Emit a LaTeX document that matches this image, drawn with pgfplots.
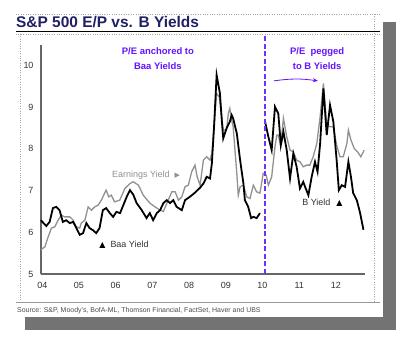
\documentclass[border=0pt]{standalone}
\usepackage{fontspec}
\setmainfont{Liberation Sans}
\newfontfamily\symfont{DejaVu Sans}
\usepackage{pgfplots}
\pgfplotsset{compat=1.18}
\usetikzlibrary{arrows.meta}
\definecolor{titleblue}{RGB}{32,32,100}
\definecolor{annot}{RGB}{100,20,255}
\definecolor{divline}{RGB}{110,50,255}
\definecolor{eygray}{RGB}{145,145,145}
\begin{document}
\begin{tikzpicture}[x=1bp,y=1bp]
\useasboundingbox (0,0) rectangle (417,351);
% shadow
\fill[black!55] (383,22) rectangle (396,329);
\fill[black!55] (25,21) rectangle (396,34);
% card
\fill[white] (8,34) rectangle (383,345);
% dotted frame
\draw[black!35, dotted] (16,337) -- (380,337);
\draw[black!35, dotted] (16,317) -- (380,317);
\draw[black!35, dotted] (20,317) -- (20,48);
\draw[black!35, dotted] (374,337) -- (374,48);
% title
\node[anchor=west, inner sep=0, text=titleblue, font=\bfseries\fontsize{15.5}{16}\selectfont] at (16,329) {S\&P 500 E/P vs. B Yields};
\draw[black, line width=1.5bp] (16,319.5) -- (380,319.5);
% bottom rule and source
\draw[black!40, line width=0.8bp] (16,48.3) -- (380,48.3);
\node[anchor=west, inner sep=0, text=black!70, font=\fontsize{7}{7}\selectfont] at (17,40) {Source: S\&P, Moody's, BofA-ML, Thomson Financial, FactSet, Haver and UBS};
\begin{axis}[at={(41bp,77bp)}, anchor=south west, scale only axis,
  width=324bp, height=229bp,
  xmin=2003.965, xmax=2012.793, ymin=5, ymax=10.49,
  axis lines*=left,
  axis line style={black!60, line width=1.5bp},
  xtick={2004,...,2012}, xticklabels={04,05,06,07,08,09,10,11,12},
  ytick={5,...,10},
  major tick length=0,
  tick label style={font=\fontsize{9}{10}\selectfont, text=black!80},
  xticklabel style={yshift=-5bp},
  yticklabel style={xshift=-4bp},
  /pgf/number format/assume math mode=true,
  clip=false]
% Earnings yield (gray)
\addplot[eygray, line width=1.3bp] coordinates {
(2003.96,5.58) (2004.07,5.65) (2004.16,5.89) (2004.25,6.10) (2004.34,6.13) (2004.43,6.29)
(2004.52,6.41) (2004.61,6.37) (2004.75,6.37) (2004.84,6.29) (2004.93,6.13) (2005.02,6.10)
(2005.06,6.22) (2005.16,6.29) (2005.25,6.61) (2005.34,6.53) (2005.43,6.61) (2005.52,6.65)
(2005.61,6.77) (2005.70,6.94) (2005.74,7.01) (2005.81,6.85) (2005.88,6.89) (2005.97,6.73)
(2006.11,6.77) (2006.25,7.05) (2006.39,7.17) (2006.48,7.21) (2006.62,7.13) (2006.75,6.89)
(2006.93,6.70) (2007.07,6.61) (2007.21,6.53) (2007.30,6.50) (2007.43,6.77) (2007.53,6.97)
(2007.62,6.97) (2007.71,6.77) (2007.80,6.85) (2007.89,7.09) (2007.98,7.13) (2008.07,7.45)
(2008.16,7.61) (2008.22,7.33) (2008.30,7.13) (2008.39,7.73) (2008.48,7.81) (2008.57,7.73)
(2008.62,7.89) (2008.68,8.53) (2008.75,9.33) (2008.82,9.25) (2008.89,8.77) (2008.93,8.45)
(2009.02,8.45) (2009.07,8.85) (2009.11,8.97) (2009.16,8.69) (2009.20,8.53) (2009.25,7.97)
(2009.30,7.41) (2009.34,6.89) (2009.39,7.09) (2009.48,7.13) (2009.57,6.85) (2009.66,6.81)
(2009.75,7.13) (2009.84,6.97) (2009.93,6.94) (2010.02,7.41) (2010.10,7.37) (2010.16,7.13)
(2010.25,7.33) (2010.34,8.05) (2010.39,8.33) (2010.43,8.33) (2010.48,8.13) (2010.52,8.29)
(2010.57,8.73) (2010.66,8.29) (2010.75,7.97) (2010.84,7.93) (2010.93,7.73) (2011.02,7.69)
(2011.11,7.57) (2011.20,7.61) (2011.29,7.61) (2011.38,7.81) (2011.48,8.13) (2011.57,8.77)
(2011.66,9.57) (2011.75,8.57) (2011.84,8.53) (2011.93,8.53) (2012.02,8.09) (2012.11,7.81)
(2012.20,7.81) (2012.30,8.13) (2012.34,8.45) (2012.41,8.21) (2012.50,8.01) (2012.59,7.93)
(2012.68,7.81) (2012.77,7.97)};
% Baa yield (black)
\addplot[black, line width=1.8bp] coordinates {
(2003.96,6.29) (2004.11,6.15) (2004.20,6.25) (2004.29,6.58) (2004.38,6.61) (2004.47,6.53)
(2004.56,6.25) (2004.65,6.29) (2004.75,6.22) (2004.84,6.25) (2004.93,6.10) (2005.02,5.94)
(2005.11,5.98) (2005.20,6.22) (2005.29,6.10) (2005.38,6.05) (2005.47,5.98) (2005.56,6.10)
(2005.65,6.53) (2005.74,6.58) (2005.84,6.46) (2005.93,6.37) (2006.02,6.49) (2006.12,6.46)
(2006.30,6.85) (2006.39,7.01) (2006.48,6.90) (2006.57,6.70) (2006.71,6.53) (2006.84,6.34)
(2006.93,6.46) (2007.02,6.29) (2007.12,6.46) (2007.21,6.53) (2007.30,6.70) (2007.39,6.77)
(2007.48,6.70) (2007.57,6.77) (2007.66,6.61) (2007.80,6.53) (2007.89,6.77) (2008.02,6.85)
(2008.16,6.95) (2008.30,7.07) (2008.39,7.17) (2008.48,7.33) (2008.57,7.29) (2008.62,7.65)
(2008.68,8.53) (2008.75,9.77) (2008.84,9.33) (2008.89,8.69) (2008.93,8.25) (2009.02,8.49)
(2009.11,8.65) (2009.16,8.81) (2009.20,8.73) (2009.30,8.37) (2009.39,7.73) (2009.48,7.17)
(2009.52,6.77) (2009.61,6.61) (2009.69,6.34) (2009.75,6.37) (2009.84,6.34) (2009.93,6.46)};
% B yield (black)
\addplot[black, line width=1.8bp] coordinates {
(2010.07,8.65) (2010.16,8.29) (2010.25,7.97) (2010.34,9.01) (2010.43,8.85) (2010.50,8.09)
(2010.57,8.41) (2010.66,7.97) (2010.75,7.29) (2010.84,7.89) (2010.93,7.57) (2011.02,7.05)
(2011.11,7.21) (2011.16,7.09) (2011.25,6.89) (2011.34,7.33) (2011.43,7.69) (2011.50,7.45)
(2011.57,8.13) (2011.66,9.45) (2011.75,8.33) (2011.84,9.05) (2011.93,8.65) (2012.02,7.73)
(2012.08,7.01) (2012.16,7.13) (2012.25,7.09) (2012.34,7.69) (2012.41,7.33) (2012.47,6.94)
(2012.57,6.77) (2012.66,6.46) (2012.75,6.06)};
% divider
\draw[draw=divline, line width=2bp, dash pattern=on 5bp off 2.5bp] (axis cs:2010.08,5) -- (axis cs:2010.08,10.71);
% annotations
\node[align=center, text=annot, font=\bfseries\fontsize{9.5}{15}\selectfont] at (axis cs:2007.15,10.17) {P/E anchored to\\Baa Yields};
\node[align=center, text=annot, font=\bfseries\fontsize{9.5}{15}\selectfont] at (axis cs:2011.49,10.17) {P/E\ \ pegged\\to B Yields};
\draw[annot, line width=0.8bp, -{Stealth[length=5bp,width=4bp]}] (axis cs:2010.31,9.63) to[bend left=8] (axis cs:2011.51,9.63);
\node[anchor=west, inner sep=0, text=eygray, font=\fontsize{9}{10}\selectfont] at (axis cs:2005.90,7.37) {Earnings Yield\hspace{5bp}{\symfont\fontsize{7}{8}\selectfont ▶}};
\node[anchor=west, inner sep=0, text=black!80, font=\fontsize{9}{10}\selectfont] at (axis cs:2011.08,6.70) {B Yield\hspace{6bp}{\symfont\fontsize{8}{8}\selectfont\color{black}▲}};
\node[anchor=west, inner sep=0, text=black!80, font=\fontsize{9}{10}\selectfont] at (axis cs:2005.55,5.70) {{\symfont\fontsize{8}{8}\selectfont\color{black}▲}\hspace{5bp}Baa Yield};
\end{axis}
\end{tikzpicture}
\end{document}
